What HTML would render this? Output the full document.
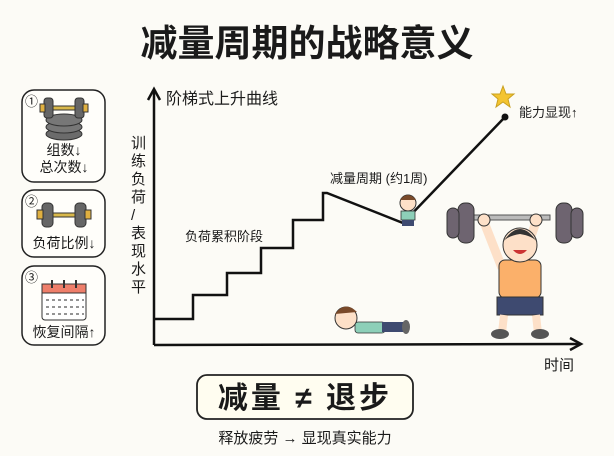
<!DOCTYPE html>
<html><head><meta charset="utf-8"><style>
body{margin:0;background:#fcfbf6;}
svg{display:block}
text{font-family:"Liberation Sans","Noto Sans CJK SC",sans-serif;fill:#1a1a1a}
</style></head><body>
<svg width="614" height="456" viewBox="0 0 614 456" xmlns="http://www.w3.org/2000/svg">
<rect width="614" height="456" fill="#fcfbf6"/>
<text x="307" y="56" font-size="37" font-weight="bold" text-anchor="middle">减量周期的战略意义</text>

<!-- left boxes -->
<g stroke="#222" stroke-width="1.5" fill="#fffefa">
<rect x="22" y="90" width="83" height="92" rx="12"/>
<rect x="22" y="190" width="83" height="67" rx="12"/>
<rect x="22" y="266" width="83" height="79" rx="12"/>
</g>
<text x="25" y="106" font-size="13">①</text>
<text x="25" y="206" font-size="13">②</text>
<text x="25" y="282" font-size="13">③</text>
<g stroke="#333" stroke-width="1">
<ellipse cx="64" cy="134" rx="18" ry="6" fill="#6b6b6b"/>
<ellipse cx="64" cy="127" rx="18" ry="6" fill="#777"/>
<ellipse cx="64" cy="120" rx="18" ry="6" fill="#777"/>
<rect x="52" y="106" width="24" height="4" fill="#d9b84a"/>
<rect x="44" y="98" width="9" height="20" rx="3" fill="#666"/>
<rect x="75" y="98" width="9" height="20" rx="3" fill="#666"/>
<rect x="40" y="104" width="5" height="8" fill="#e0b040"/>
<rect x="83" y="104" width="5" height="8" fill="#e0b040"/>
</g>
<text x="64" y="155" font-size="14" text-anchor="middle">组数↓</text>
<text x="64" y="172" font-size="14" text-anchor="middle">总次数↓</text>
<g stroke="#333" stroke-width="1">
<rect x="52" y="213" width="24" height="4" fill="#d9b84a"/>
<rect x="42" y="203" width="11" height="24" rx="4" fill="#666"/>
<rect x="75" y="203" width="11" height="24" rx="4" fill="#666"/>
<rect x="37" y="210" width="6" height="9" fill="#e0b040"/>
<rect x="85" y="210" width="6" height="9" fill="#e0b040"/>
</g>
<text x="64" y="248" font-size="14" text-anchor="middle">负荷比例↓</text>
<rect x="42" y="284" width="44" height="36" rx="3" fill="#fff" stroke="#333"/>
<rect x="42" y="284" width="44" height="9" fill="#ee7e6a" stroke="#333"/>
<g stroke="#333" stroke-width="2"><line x1="52" y1="280" x2="52" y2="288"/><line x1="64" y1="280" x2="64" y2="288"/><line x1="76" y1="280" x2="76" y2="288"/></g>
<g stroke="#555" stroke-width="1.2" stroke-dasharray="3 3"><line x1="46" y1="300" x2="84" y2="300"/><line x1="46" y1="307" x2="84" y2="307"/><line x1="46" y1="314" x2="84" y2="314"/></g>
<text x="64" y="337" font-size="14" text-anchor="middle">恢复间隔↑</text>

<g font-size="15">
<text x="131" y="148">训</text><text x="131" y="166">练</text><text x="131" y="184">负</text><text x="131" y="202">荷</text>
<text x="131" y="220">/</text><text x="131" y="238">表</text><text x="131" y="256">现</text><text x="131" y="274">水</text><text x="131" y="292">平</text>
</g>

<g stroke="#111" stroke-width="2.5" fill="none">
<line x1="154" y1="345" x2="154" y2="90"/>
<polyline points="148,100 154,89 160,100"/>
<line x1="154" y1="345" x2="580" y2="344"/>
<polyline points="570,338 581,344 570,350"/>
</g>
<text x="166" y="104" font-size="16">阶梯式上升曲线</text>
<text x="544" y="370" font-size="15">时间</text>

<polyline fill="none" stroke="#111" stroke-width="2.5" points="155,319 193,319 193,295 227,295 227,273 261,273 261,248 293,248 293,220 323,220 323,193 327,193 403,223 505,117"/>
<circle cx="505" cy="117" r="3.5" fill="#111"/>
<polygon points="503,86 506,94 514,94 508,99 510,107 503,102 496,107 498,99 492,94 500,94" fill="#f4c430" stroke="#c9a020"/>
<text x="519" y="117" font-size="13">能力显现↑</text>
<text x="330" y="183" font-size="13">减量周期 (约1周)</text>
<text x="185" y="241" font-size="13">负荷累积阶段</text>

<circle cx="408" cy="203" r="8" fill="#fde0c8" stroke="#333"/>
<path d="M400,200 q8,-10 16,0" fill="#7a4a2a"/>
<rect x="401" y="211" width="14" height="9" fill="#8dcfb8" stroke="#333" stroke-width=".8"/>
<rect x="402" y="220" width="12" height="6" fill="#3e4a70"/>
<circle cx="346" cy="318" r="11" fill="#fde0c8" stroke="#333"/>
<path d="M335,314 q10,-14 22,-2" fill="#7a4a2a"/>
<rect x="355" y="322" width="30" height="11" rx="3" fill="#8dcfb8" stroke="#333" stroke-width=".8"/>
<rect x="382" y="322" width="24" height="10" fill="#3e4a70"/>
<ellipse cx="406" cy="327" rx="4" ry="7" fill="#666"/>

<rect x="470" y="215" width="80" height="5" fill="#bbb" stroke="#555"/>
<rect x="458" y="203" width="16" height="40" rx="7" fill="#6e6470" stroke="#333"/>
<rect x="447" y="208" width="12" height="30" rx="6" fill="#6e6470" stroke="#333"/>
<rect x="556" y="203" width="16" height="40" rx="7" fill="#6e6470" stroke="#333"/>
<rect x="571" y="208" width="12" height="30" rx="6" fill="#6e6470" stroke="#333"/>
<path d="M484,222 L502,268 M536,222 L520,268" stroke="#fde0c8" stroke-width="9"/>
<circle cx="484" cy="220" r="6" fill="#fde0c8" stroke="#333"/>
<circle cx="536" cy="220" r="6" fill="#fde0c8" stroke="#333"/>
<rect x="499" y="260" width="42" height="38" rx="6" fill="#fbb06a" stroke="#333"/>
<circle cx="520" cy="245" r="17" fill="#fde0c8" stroke="#333"/>
<path d="M503,242 q17,-26 34,0 q-4,-6 -17,-8 q-13,2 -17,8z" fill="#333"/>
<path d="M513,250 q7,8 14,0z" fill="#c33"/>
<rect x="497" y="297" width="46" height="18" fill="#3e4a70" stroke="#333"/>
<path d="M504,315 L502,333 M536,315 L538,333" stroke="#fde0c8" stroke-width="8"/>
<ellipse cx="500" cy="334" rx="9" ry="5" fill="#555"/>
<ellipse cx="540" cy="334" rx="9" ry="5" fill="#555"/>

<rect x="197" y="375" width="216" height="44" rx="10" fill="#fffdf0" stroke="#222" stroke-width="1.8"/>
<text x="305" y="408" font-size="30" font-weight="bold" text-anchor="middle" letter-spacing="3">减量 ≠ 退步</text>
<text x="305" y="443" font-size="15" text-anchor="middle">释放疲劳 → 显现真实能力</text>
</svg>
</body></html>
